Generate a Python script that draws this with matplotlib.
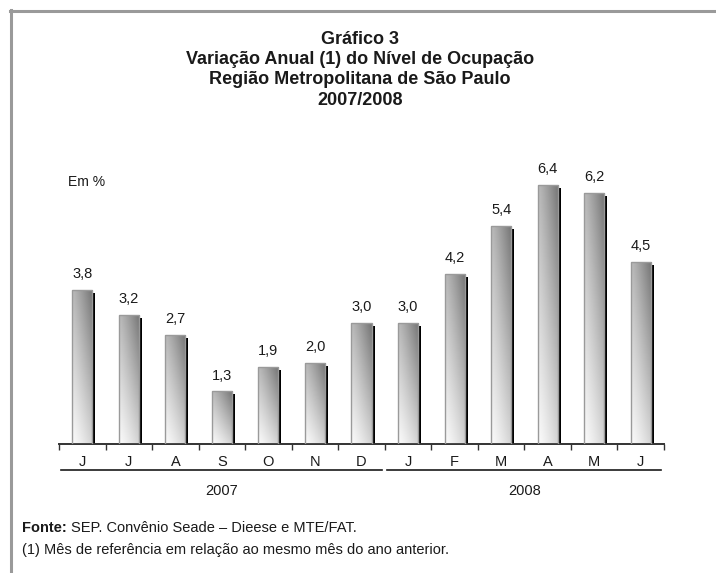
import numpy as np
import matplotlib
matplotlib.use('Agg')
import matplotlib.pyplot as plt
from matplotlib import font_manager
import matplotlib.transforms as mtransforms

# Data
months = ['J', 'J', 'A', 'S', 'O', 'N', 'D', 'J', 'F', 'M', 'A', 'M', 'J']
values = [3.8, 3.2, 2.7, 1.3, 1.9, 2.0, 3.0, 3.0, 4.2, 5.4, 6.4, 6.2, 4.5]
years = ['2007', '2008']
year_spans = [(0, 6), (7, 12)]   # first and last month index per year

names = {f.name for f in font_manager.fontManager.ttflist}
narrow = 'Liberation Sans Narrow' if 'Liberation Sans Narrow' in names else 'Liberation Sans'
plt.rcParams['font.family'] = [narrow, 'DejaVu Sans']

W, H = 716, 573
fig = plt.figure(figsize=(W / 100, H / 100), dpi=100)


def fx(x):
    return x / W


def fy(y):
    return 1 - y / H


# border (top and left only)
fig.add_artist(plt.Line2D([fx(10), 1], [fy(11), fy(11)], color='#9a9a9a', lw=2.2))
fig.add_artist(plt.Line2D([fx(10.5), fx(10.5)], [fy(10), 0], color='#9a9a9a', lw=2.2))

# title
title_lines = ['Gráfico 3', 'Variação Anual (1) do Nível de Ocupação',
               'Região Metropolitana de São Paulo', '2007/2008']
for i, t in enumerate(title_lines):
    fig.text(fx(360), fy(39 + i * 20.5), t, ha='center', va='center',
             fontsize=13, fontweight='bold', color='#1a1a1a')

ax = fig.add_axes([fx(59), fy(444), fx(664) - fx(59), fy(161) - fy(444)])
ax.set_xlim(-0.5, len(months) - 0.5)
ax.set_ylim(0, 7)
ax.patch.set_visible(False)
for s in ['top', 'left', 'right']:
    ax.spines[s].set_visible(False)
ax.spines['bottom'].set_color('#333333')
ax.spines['bottom'].set_linewidth(1.4)

x = np.arange(len(months))
bw = 0.43
dx = 3 / 46.5     # shadow offset in data units
dy = 3 / 40.4

# shadows
ax.bar(x + dx, np.array(values) - dy, width=bw, color='black', zorder=1)
# bars with gradient fill
bars = ax.bar(x, values, width=bw, facecolor='none', edgecolor='#9a9a9a', lw=1.0, zorder=3)
gx = np.linspace(0, 1, 64)
gy = np.linspace(0, 1, 64)
GX, GY = np.meshgrid(gx, gy)
shade = 0.98 - 0.16 * GX ** 1.3 - 0.25 * GY - 0.12 * GX * GY
shade = np.clip(shade, 0, 1)
for b in bars:
    x0, w, h = b.get_x(), b.get_width(), b.get_height()
    im = ax.imshow(shade, cmap='gray', vmin=0, vmax=1, origin='lower',
                   extent=[x0, x0 + w, 0, h], aspect='auto', zorder=2,
                   interpolation='bilinear')
    im.set_clip_path(b)

for xi, v in zip(x, values):
    ax.text(xi, v + 0.22, f'{v:.1f}'.replace('.', ','), ha='center', va='bottom',
            fontsize=10.5, color='#1a1a1a')

# ticks at category boundaries, labels at centers
ax.set_xticks(np.arange(-0.5, len(months), 1.0))
ax.set_xticklabels([])
ax.tick_params(axis='x', which='major', direction='out', length=4, width=1, color='#333333')
ax.set_xticks(x, minor=True)
ax.set_xticklabels(months, minor=True, fontsize=10.5, color='#1a1a1a')
ax.tick_params(axis='x', which='minor', length=0, pad=8)
ax.set_yticks([])

trans = mtransforms.blended_transform_factory(ax.transData, fig.transFigure)
for yr, (a, b) in zip(years, year_spans):
    ax.add_line(plt.Line2D([a - 0.46, b + 0.44], [fy(470), fy(470)], transform=trans,
                           color='#1a1a1a', lw=1.2, clip_on=False))
    ax.text((a + b) / 2, fy(491), yr, transform=trans, ha='center', va='center',
            fontsize=10.5, color='#1a1a1a')

fig.text(fx(68), fy(182), 'Em %', ha='left', va='center', fontsize=10, color='#1a1a1a')

# source notes
src = fig.text(fx(22), fy(528), 'Fonte:', ha='left', va='center', fontsize=10.5,
               fontweight='bold', color='#1a1a1a')
fig.canvas.draw()
bb = src.get_window_extent()
fig.text(fx(bb.x1 + 4), fy(528), 'SEP. Convênio Seade – Dieese e MTE/FAT.', ha='left',
         va='center', fontsize=10.5, color='#1a1a1a')
fig.text(fx(22), fy(550), '(1) Mês de referência em relação ao mesmo mês do ano anterior.',
         ha='left', va='center', fontsize=10.5, color='#1a1a1a')

fig.savefig('out.png', dpi=100)
